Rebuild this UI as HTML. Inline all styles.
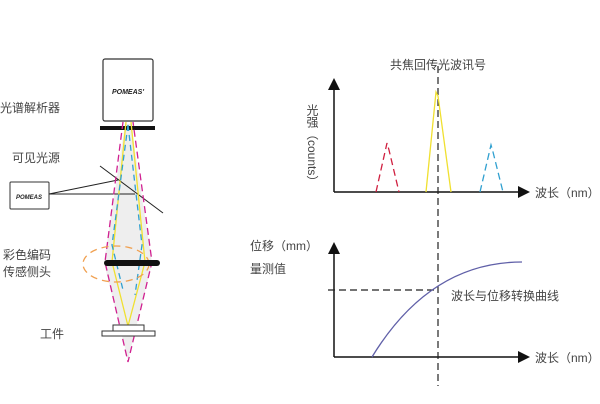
<!DOCTYPE html>
<html><head><meta charset="utf-8"><style>
body{margin:0;background:#fff}
svg{display:block;font-family:"Liberation Sans","Noto Sans CJK SC",sans-serif}
</style></head><body>
<svg width="600" height="404" viewBox="0 0 600 404" xmlns="http://www.w3.org/2000/svg">
<g font-size="12" fill="#444">
<text x="0" y="112">光谱解析器</text>
<text x="12" y="162">可见光源</text>
<text x="3" y="259">彩色编码</text>
<text x="3" y="276">传感侧头</text>
<text x="40" y="338">工件</text>
</g>
<polygon points="125,124 104,263 128,360 152,263 131,124" fill="#eee"/>
<rect x="103" y="59" width="50" height="62" rx="2" fill="#fff" stroke="#333" stroke-width="1.2"/>
<text x="128" y="94" font-size="7" font-weight="bold" font-style="italic" text-anchor="middle" fill="#222">POMEAS'</text>
<rect x="100" y="126" width="55" height="4" fill="#111"/>
<rect x="10" y="182" width="39" height="27" rx="1" fill="#fff" stroke="#333"/>
<text x="29" y="199" font-size="6" font-weight="bold" font-style="italic" text-anchor="middle" fill="#222">POMEAS</text>
<line x1="49" y1="194" x2="118" y2="180" stroke="#222"/>
<line x1="49" y1="194" x2="135" y2="194" stroke="#222"/>
<line x1="100" y1="166" x2="163" y2="213" stroke="#222"/>
<g fill="none" stroke-width="1.3">
<polyline points="126,122 112,262 128,326 145,262 131,122" stroke="#f0e030"/>
<polyline points="123,122 105,262 128,362 152,262 133,122" stroke="#d02090" stroke-dasharray="7,4"/>
<polyline points="128,125 112,245 123,290" stroke="#30a0d0" stroke-dasharray="6,4"/>
<polyline points="128,125 142,245 135,295" stroke="#30a0d0" stroke-dasharray="6,4"/>
<ellipse cx="116" cy="264" rx="33" ry="18" stroke="#f0a050" stroke-dasharray="7,5"/>
</g>
<rect x="104" y="260" width="56" height="6" rx="3" fill="#111"/>
<rect x="113" y="325" width="31" height="6" fill="#fff" stroke="#333"/>
<rect x="102" y="331" width="53" height="5" fill="#fff" stroke="#333"/>
<!-- right -->
<g stroke="#111" stroke-width="1.5">
<line x1="334" y1="88" x2="334" y2="192"/><line x1="334" y1="192" x2="520" y2="192"/>
<line x1="334" y1="251" x2="334" y2="357"/><line x1="334" y1="357" x2="520" y2="357"/>
</g>
<g fill="#111">
<polygon points="334,78 328,90 340,90"/><polygon points="530,192 518,186 518,198"/>
<polygon points="334,242 328,254 340,254"/><polygon points="530,357 518,351 518,363"/>
</g>
<line x1="438" y1="66" x2="438" y2="386" stroke="#222" stroke-width="1.2" stroke-dasharray="7,4"/>
<line x1="328" y1="290" x2="438" y2="290" stroke="#222" stroke-width="1.2" stroke-dasharray="7,4"/>
<g fill="none" stroke-width="1.3">
<polyline points="376,192 387,143 389,150 399,192" stroke="#d02040" stroke-dasharray="7,4"/>
<polyline points="426,192 436,92 438,96 451,192" stroke="#f0e030"/>
<polyline points="480,192 491,145 493,152 503,192" stroke="#30a0d0" stroke-dasharray="7,4"/>
<path d="M372,357 Q430,262 522,262" stroke="#6060a8"/>
</g>
<g font-size="12" fill="#444">
<text x="438" y="69" text-anchor="middle">共焦回传光波讯号</text>
<text x="535" y="197">波长（nm）</text>
<text x="535" y="362">波长（nm）</text>
<text x="451" y="300">波长与位移转换曲线</text>
<text x="250" y="250">位移（mm）</text>
<text x="250" y="273">量测值</text>
<text x="312" y="104" writing-mode="tb">光强（counts）</text>
</g>
</svg>
</body></html>
